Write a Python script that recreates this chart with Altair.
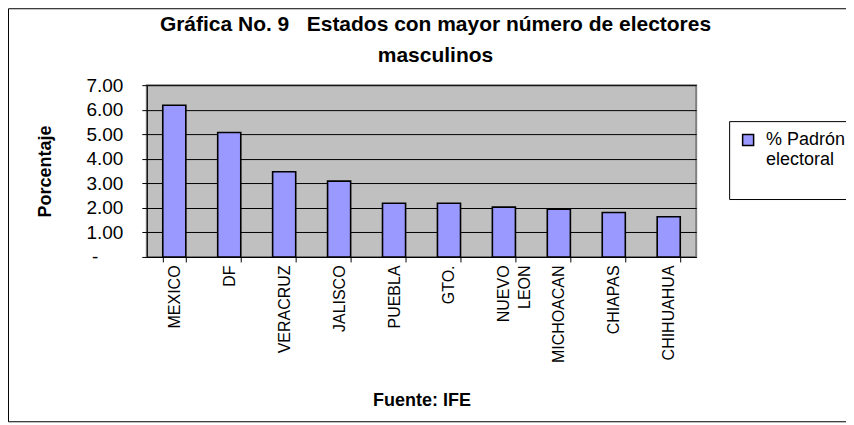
import altair as alt
import pandas as pd

states = ["MEXICO", "DF", "VERACRUZ", "JALISCO", "PUEBLA", "GTO.",
          "NUEVO LEON", "MICHOACAN", "CHIAPAS", "CHIHUAHUA"]
values = [6.18, 5.07, 3.47, 3.09, 2.19, 2.19, 2.03, 1.95, 1.81, 1.64]
series_name = "% Padrón electoral"
y_ticks = [0, 1, 2, 3, 4, 5, 6, 7]

df = pd.DataFrame({"estado": states, "pct": values, "serie": [series_name] * len(states)})

FONT = "Liberation Sans"
NB = "\u00a0"

bars = alt.Chart(df).mark_bar(stroke="black", strokeWidth=1.6, opacity=1).encode(
    x=alt.X(
        "estado:N",
        sort=states,
        scale=alt.Scale(paddingInner=0.58, paddingOuter=0.29),
        axis=alt.Axis(
            title="Fuente: IFE",
            titleFont=FONT, titleFontSize=18, titleFontWeight="bold", titleColor="black",
            titleY=144, titleBaseline="middle",
            labelAngle=270, labelFont=FONT, labelFontSize=16, labelColor="black",
            labelPadding=3, labelExpr="split(datum.label, ' ')", labelLineHeight=21,
            tickBand="extent", tickSize=5, tickColor="black", tickWidth=1,
            domainColor="black", domainWidth=1, grid=False,
        ),
    ),
    y=alt.Y(
        "pct:Q",
        scale=alt.Scale(domain=[0, 7], nice=False),
        axis=alt.Axis(
            title="Porcentaje",
            titleFont=FONT, titleFontSize=18, titleFontWeight="bold", titleColor="black",
            titleX=-101, titleY=86, titleBaseline="middle", titleAngle=270,
            values=y_ticks, format=".2f",
            labelExpr="datum.value == 0 ? '-' : datum.label",
            labelFont=FONT, labelFontSize=19, labelColor="black",
            labelPadding={"condition": {"test": "datum.value == 0", "value": 44}, "value": 19},
            tickSize=5, tickColor="black", tickWidth=1,
            domainColor="black", domainWidth=1,
            grid=True, gridColor="black", gridWidth=1, gridOpacity=1,
        ),
    ),
    color=alt.Color(
        "serie:N",
        scale=alt.Scale(range=["#9999FF"]),
        legend=alt.Legend(
            title=None, orient="none", legendX=583, legendY=36,
            strokeColor="black", fillColor="white", padding=10,
            symbolType="square", symbolSize=121, symbolStrokeColor="black",
            symbolStrokeWidth=1.5, symbolOpacity=1,
            labelFont=FONT, labelFontSize=18, labelColor="black",
            labelExpr="['% Padrón', 'electoral', '']",
            labelOffset=9, labelLimit=400,
        ),
    ),
)

frame = alt.Chart(pd.DataFrame({"a": [0]})).mark_rect(
    fill="white", fillOpacity=0, stroke="black", strokeWidth=1
).encode(
    x=alt.value(-138.5), x2=alt.value(720), y=alt.value(-76.5), y2=alt.value(337)
)

chart = alt.layer(frame, bars).properties(
    width=550,
    height=172,
    title=alt.TitleParams(
        text=["Gráfica No. 9" + NB * 3 + "Estados con mayor número de electores", "masculinos"],
        font=FONT, fontSize=21, fontWeight="bold", color="black",
        anchor="middle", dx=14, offset=-58, lineHeight=31,
    ),
    padding={"left": 139, "top": 77, "right": 150, "bottom": 166},
    autosize=alt.AutoSizeParams(type="none"),
    background="white",
).configure_view(
    fill="#C0C0C0", stroke="#808080", strokeWidth=2
)

chart.save("out.html", embed_options={"renderer": "svg", "actions": False})
